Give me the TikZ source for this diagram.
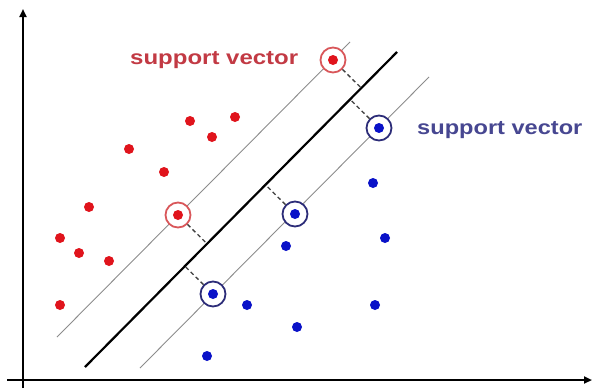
\documentclass[tikz,border=0pt]{standalone}
\definecolor{SvmRed}{HTML}{E0141C}
\definecolor{SvmRedRing}{HTML}{D9575A}
\definecolor{SvmRedText}{HTML}{C23A44}
\definecolor{SvmBlue}{HTML}{0A12C8}
\definecolor{SvmBlueRing}{HTML}{2C2C78}
\definecolor{SvmBlueText}{HTML}{474791}
\definecolor{SvmGrey}{HTML}{8C8C8C}
\usepackage{fontspec}
\setmainfont{Liberation Sans}
\usepackage{tikz}
\usetikzlibrary{arrows.meta,calc}

\begin{document}
\begin{tikzpicture}[x=1pt,y=-1pt,
      axis/.style={-{Triangle[length=8pt,width=7pt]},line width=2.2pt,draw=black},
      redpt/.style={circle,fill=SvmRed,inner sep=0pt,minimum size=10pt},
      bluept/.style={circle,fill=SvmBlue,inner sep=0pt,minimum size=10pt},
      redsv/.style={circle,draw=SvmRedRing,line width=1.8pt,inner sep=0pt,
                    minimum size=25pt,fill=white,
                    path picture={\fill[SvmRed] (path picture bounding box.center) circle (5pt);}},
      bluesv/.style={redsv,draw=SvmBlueRing,
                    path picture={\fill[SvmBlue] (path picture bounding box.center) circle (5pt);}},
      margin/.style={draw=SvmGrey,line width=0.9pt},
      hyper/.style={draw=black,line width=2.2pt},
      gap/.style={dash pattern=on 4pt off 3pt,line width=1.3pt,draw=black!75},
      svlabel/.style={inner sep=0pt,anchor=base west,
                      font=\fontsize{20}{24}\selectfont\bfseries}]
    \useasboundingbox (0,0) rectangle (593,388);
    % axes
    \coordinate (o1) at (23,388);  \coordinate (yt) at (23,9);
    \coordinate (o2) at (7,380);   \coordinate (xt) at (592,380);
    \draw[axis] (o1) -- (yt);
    \draw[axis] (o2) -- (xt);
    % separating line and margins
    \coordinate (m1) at (85,367);  \coordinate (m2) at (397,52);
    \coordinate (u1) at (57,337);  \coordinate (u2) at (350,42);
    \coordinate (l1) at (140,368); \coordinate (l2) at (429,77);
    \draw[margin] (u1) -- (u2);
    \draw[margin] (l1) -- (l2);
    \draw[hyper] (m1) -- (m2);
    % ordinary points
    \foreach \n/\x/\y in {r1/190/121,r2/235/117,r3/212/137,r4/129/149,r5/164/172,
                          r6/89/207,r7/60/238,r8/79/253,r9/109/261,r10/60/305}
      \node[redpt] (\n) at (\x,\y) {};
    \foreach \n/\x/\y in {b1/373/183,b2/385/238,b3/286/246,b4/247/305,
                          b5/375/305,b6/297/327,b7/207/356}
      \node[bluept] (\n) at (\x,\y) {};
    % support vectors
    \node[redsv]  (sr1) at (333,60)  {};
    \node[redsv]  (sr2) at (178,215) {};
    \node[bluesv] (sb1) at (379,128) {};
    \node[bluesv] (sb2) at (295,214) {};
    \node[bluesv] (sb3) at (213,294) {};
    \foreach \s in {sr1,sr2,sb1,sb2,sb3} {
      \coordinate (f\s) at ($(m1)!(\s)!(m2)$);
      \draw[gap] (\s) -- (f\s);
    }
    \node[svlabel,text=SvmRedText]  (lblr) at (130,64)  {\scalebox{1.2}[1]{support vector}};
    \node[svlabel,text=SvmBlueText] (lblb) at (417,134) {\scalebox{1.18}[1]{support vector}};
  \end{tikzpicture}
\end{document}
